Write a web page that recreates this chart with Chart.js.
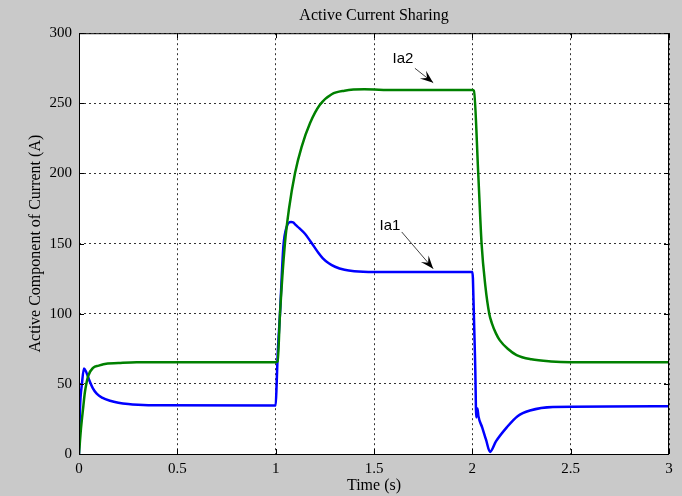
<!DOCTYPE html>
<html>
<head>
<meta charset="utf-8">
<script src="https://cdn.jsdelivr.net/npm/chart.js@4.4.0/dist/chart.umd.min.js"></script>
<style>
  html, body { margin: 0; padding: 0; background: #c9c9c9; }
  #wrap { width: 682px; height: 496px; }
</style>
</head>
<body>
<div id="wrap"><canvas id="myChart"></canvas></div>
<script>
// Ia2 (green)
const ia2Time = [0, 0.01, 0.022, 0.03, 0.047, 0.073, 0.1, 0.124, 0.2, 0.293, 0.5, 1.0,
  1.01, 1.022, 1.047, 1.068, 1.098, 1.132, 1.175, 1.225, 1.285, 1.35, 1.45, 1.6, 2.0,
  2.008, 2.03, 2.047, 2.066, 2.086, 2.1, 2.12, 2.14, 2.18, 2.225, 2.3, 2.4, 2.5, 3.0];
const ia2Values = [0, 18, 34, 44, 55.7, 61.6, 63, 64, 64.8, 65.5, 65.5, 65.5,
  66, 100, 150, 175, 200, 219, 236, 249, 256.5, 259, 260, 259.5, 259.5,
  259, 200, 150, 120, 100, 93, 86, 81, 75, 70.5, 67.5, 66, 65.5, 65.5];

// Ia1 (blue)
const ia1Time = [0, 0.005, 0.015, 0.025, 0.035, 0.047, 0.07, 0.09, 0.12, 0.158, 0.2, 0.25, 0.3, 0.41, 1.0,
  1.005, 1.01, 1.022, 1.039, 1.056, 1.078, 1.09, 1.1, 1.12, 1.149, 1.18, 1.217, 1.24, 1.27, 1.302,
  1.35, 1.4, 1.5, 2.0,
  2.003, 2.015, 2.02, 2.026, 2.031, 2.05, 2.07, 2.09, 2.12, 2.175, 2.23, 2.293, 2.41, 3.0];
const ia1Values = [0, 32, 50, 61, 59, 54.5, 47, 43, 40, 38, 36.6, 35.6, 35.1, 34.7, 34.5,
  50, 70, 100, 147.6, 162, 165.4, 165, 163.5, 161, 157, 151, 143.5, 139.5, 136, 133.5,
  131.3, 130.3, 129.8, 129.7,
  125, 60, 26, 32.5, 27, 19, 10, 1.5, 9, 19, 27, 31, 33.5, 34];

const xTicks = [0, 0.5, 1, 1.5, 2, 2.5, 3];
const yTicks = [0, 50, 100, 150, 200, 250, 300];

// annotation text + arrows, in data units
const notes = [
  { text: "Ia2", at: [1.647, 281.6], from: [1.708, 275], to: [1.801, 264.7] },
  { text: "Ia1", at: [1.581, 163], from: [1.641, 158.3], to: [1.801, 132.1] },
];

const toPoints = (ts, vs) => ts.map((t, i) => ({ x: t, y: vs[i] }));

const serif = "'Liberation Serif', 'Times New Roman', serif";

const frame = {
  id: "frame",
  beforeDraw(chart) {
    const { ctx, chartArea: a } = chart;
    ctx.save();
    ctx.fillStyle = "#c9c9c9";
    ctx.fillRect(0, 0, chart.width, chart.height);
    ctx.fillStyle = "#ffffff";
    ctx.fillRect(a.left, a.top, a.right - a.left, a.bottom - a.top);
    ctx.restore();
  },
  afterDraw(chart) {
    const { ctx, chartArea: a, scales } = chart;
    ctx.save();
    ctx.strokeStyle = "#000";
    ctx.lineWidth = 1;
    ctx.strokeRect(a.left + 0.5, a.top + 0.5, a.right - a.left - 1, a.bottom - a.top);
    // inward tick marks on all sides
    ctx.beginPath();
    xTicks.forEach(v => {
      const x = Math.round(scales.x.getPixelForValue(v)) + 0.5;
      ctx.moveTo(x, a.bottom); ctx.lineTo(x, a.bottom - 5);
      ctx.moveTo(x, a.top); ctx.lineTo(x, a.top + 5);
    });
    yTicks.forEach(v => {
      const y = Math.round(scales.y.getPixelForValue(v)) + 0.5;
      ctx.moveTo(a.left, y); ctx.lineTo(a.left + 5, y);
      ctx.moveTo(a.right, y); ctx.lineTo(a.right - 5, y);
    });
    ctx.stroke();

    // annotations
    notes.forEach(n => {
      const tx = scales.x.getPixelForValue(n.at[0]);
      const ty = scales.y.getPixelForValue(n.at[1]);
      ctx.fillStyle = "#000";
      ctx.font = "15px 'Liberation Sans', Arial, sans-serif";
      ctx.textAlign = "center";
      ctx.textBaseline = "middle";
      ctx.fillText(n.text, tx, ty);
      const x1 = scales.x.getPixelForValue(n.from[0]);
      const y1 = scales.y.getPixelForValue(n.from[1]);
      const x2 = scales.x.getPixelForValue(n.to[0]);
      const y2 = scales.y.getPixelForValue(n.to[1]);
      const ang = Math.atan2(y2 - y1, x2 - x1);
      ctx.strokeStyle = "#444";
      ctx.lineWidth = 1;
      ctx.beginPath();
      ctx.moveTo(x1, y1); ctx.lineTo(x2, y2);
      ctx.stroke();
      const L = 13, W = 5;
      ctx.beginPath();
      ctx.moveTo(x2, y2);
      ctx.lineTo(x2 - L * Math.cos(ang) + W * Math.sin(ang), y2 - L * Math.sin(ang) - W * Math.cos(ang));
      ctx.lineTo(x2 - 0.6 * L * Math.cos(ang), y2 - 0.6 * L * Math.sin(ang));
      ctx.lineTo(x2 - L * Math.cos(ang) - W * Math.sin(ang), y2 - L * Math.sin(ang) + W * Math.cos(ang));
      ctx.closePath();
      ctx.fillStyle = "#000";
      ctx.fill();
    });
    ctx.restore();
  },
};

const ctx = document.getElementById("myChart").getContext("2d");

const myChart = new Chart(ctx, {
  type: "line",
  data: {
    datasets: [
      {
        label: "Ia2",
        data: toPoints(ia2Time, ia2Values),
        borderColor: "#008000",
        borderWidth: 2.5,
        pointRadius: 0,
        cubicInterpolationMode: "monotone",
        order: 0,
      },
      {
        label: "Ia1",
        data: toPoints(ia1Time, ia1Values),
        borderColor: "#0000ff",
        borderWidth: 2.5,
        pointRadius: 0,
        cubicInterpolationMode: "monotone",
        order: 1,
      },
    ],
  },
  options: {
    responsive: true,
    maintainAspectRatio: false,
    animation: false,
    layout: { padding: { top: 0, right: 13, bottom: 0, left: 0 } },
    plugins: {
      legend: { display: false },
      tooltip: { enabled: false },
      title: {
        display: true,
        text: "Active Current Sharing",
        fullSize: false,
        color: "#000",
        font: { family: serif, size: 16, weight: "normal" },
        padding: { top: 6, bottom: 8 },
      },
    },
    scales: {
      x: {
        type: "linear",
        min: 0,
        max: 3,
        ticks: { stepSize: 0.5, color: "#000", padding: 6, font: { family: serif, size: 15 }, callback: (v) => String(v) },
        grid: { color: "rgba(0,0,0,0.8)", drawTicks: false, tickLength: 0 },
        border: { display: false, dash: [2, 3] },
        title: { display: true, text: "Time (s)", color: "#000", font: { family: serif, size: 16 }, padding: { top: 0, bottom: 1 } },
        afterFit: (s) => { s.height = 42; },
      },
      y: {
        min: 0,
        max: 300,
        ticks: { stepSize: 50, color: "#000", padding: 7, font: { family: serif, size: 15 } },
        grid: { color: "rgba(0,0,0,0.8)", drawTicks: false, tickLength: 0 },
        border: { display: false, dash: [2, 3] },
        title: { display: true, text: "Active Component of Current (A)", color: "#000", font: { family: serif, size: 16 }, padding: { top: 26, bottom: 0 } },
        afterFit: (s) => { s.width = 79; },
      },
    },
  },
  plugins: [frame],
});
</script>
</body>
</html>
